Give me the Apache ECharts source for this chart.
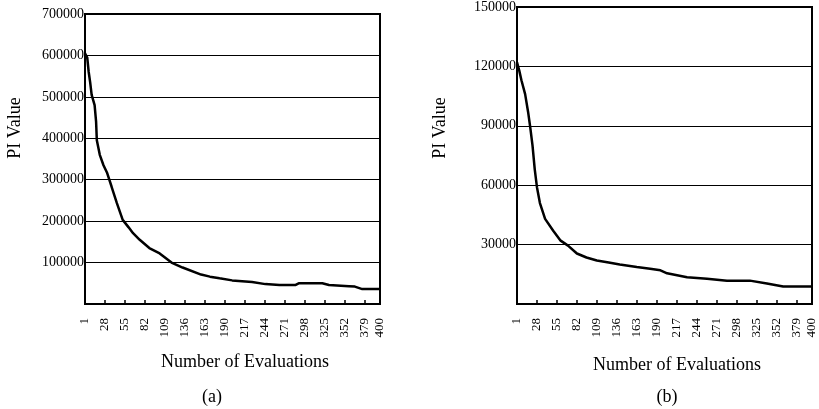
<!DOCTYPE html>
<html>
<head>
<meta charset="utf-8">
<script src="https://cdn.jsdelivr.net/npm/echarts@6/dist/echarts.min.js"></script>
<style>
  html, body { margin: 0; padding: 0; background: #fff; }
  #app { width: 819px; height: 409px; }
</style>
</head>
<body>
<div id="app"></div>
<script>
// evaluation ticks shown on both x axes
var xTicks = [1, 28, 55, 82, 109, 136, 163, 190, 217, 244, 271, 298, 325, 352, 379, 400];

// (a) PI value vs evaluation number
var evalsA = [1, 4, 6, 8, 10, 14, 16, 17, 21, 26, 31, 37, 44, 52, 60, 66, 75, 88, 102, 118, 133, 158, 170, 183, 200, 227, 245, 264, 286, 290, 322, 331, 358, 366, 376, 400];
var piA = [605000, 595000, 560000, 535000, 505000, 480000, 440000, 395000, 360000, 335000, 316000, 283000, 244000, 203000, 185000, 171000, 155000, 135000, 122000, 100000, 88000, 71000, 66000, 62000, 57000, 53000, 48000, 46000, 46000, 50000, 50000, 46000, 43000, 42000, 36000, 36000];

// (b)
var evalsB = [1, 4, 7, 12, 16, 19, 22, 25, 28, 32, 39, 50, 60, 70, 82, 95, 109, 125, 140, 163, 181, 195, 204, 231, 258, 285, 316, 339, 361, 400];
var piB = [122000, 118000, 113000, 106000, 97000, 89000, 80000, 68000, 59000, 51000, 43000, 37000, 32000, 29500, 25500, 23500, 22000, 21000, 20000, 18700, 17800, 17000, 15500, 13500, 12700, 11800, 11800, 10400, 8800, 8800];

var serif = "'Liberation Serif', 'Times New Roman', serif";

function pairs(xs, ys) {
    return xs.map(function (x, i) { return [x, ys[i]]; });
}

function xAxisFor(gridIndex) {
    return {
        type: 'value',
        gridIndex: gridIndex,
        min: 1,
        max: 400,
        axisLine: { show: true, lineStyle: { color: '#000', width: 2 } },
        axisTick: { show: true, inside: true, length: 4, customValues: xTicks, lineStyle: { color: '#000', width: 1.5 } },
        axisLabel: { customValues: xTicks, rotate: 90, margin: 14, color: '#000', fontFamily: serif, fontSize: 13 },
        splitLine: { show: false }
    };
}

function yAxisFor(gridIndex, max, step) {
    return {
        type: 'value',
        gridIndex: gridIndex,
        min: 0,
        max: max,
        interval: step,
        axisLine: { show: true, lineStyle: { color: '#000', width: 2 } },
        axisTick: { show: false },
        axisLabel: {
            margin: 1, color: '#000', fontFamily: serif, fontSize: 14,
            formatter: function (v) { return v === 0 ? '' : String(v); }
        },
        splitLine: { show: true, lineStyle: { color: '#000', width: 1 } }
    };
}

function caption(text, x, y, rot) {
    return {
        type: 'text',
        x: x,
        y: y,
        rotation: rot || 0,
        style: { text: text, fill: '#000', font: '18px ' + serif, align: 'center', verticalAlign: 'middle' }
    };
}

var myChart = echarts.init(document.getElementById('app'));

var option = {
    backgroundColor: '#fff',
    animation: false,
    grid: [
        { left: 85, right: 439, top: 14, bottom: 105, show: true, borderColor: '#000', borderWidth: 2 },
        { left: 517, right: 7, top: 7, bottom: 105, show: true, borderColor: '#000', borderWidth: 2 }
    ],
    xAxis: [xAxisFor(0), xAxisFor(1)],
    yAxis: [yAxisFor(0, 700000, 100000), yAxisFor(1, 150000, 30000)],
    series: [
        {
            name: '(a)',
            type: 'line',
            xAxisIndex: 0,
            yAxisIndex: 0,
            data: pairs(evalsA, piA),
            showSymbol: false,
            lineStyle: { color: '#000', width: 2.5 }
        },
        {
            name: '(b)',
            type: 'line',
            xAxisIndex: 1,
            yAxisIndex: 1,
            data: pairs(evalsB, piB),
            showSymbol: false,
            lineStyle: { color: '#000', width: 2.5 }
        }
    ],
    graphic: [
        caption('PI Value', 15, 128, Math.PI / 2),
        caption('Number of Evaluations', 245, 362),
        caption('(a)', 212, 397),
        caption('PI Value', 440, 128, Math.PI / 2),
        caption('Number of Evaluations', 677, 365),
        caption('(b)', 667, 397)
    ]
};

myChart.setOption(option);
</script>
</body>
</html>
